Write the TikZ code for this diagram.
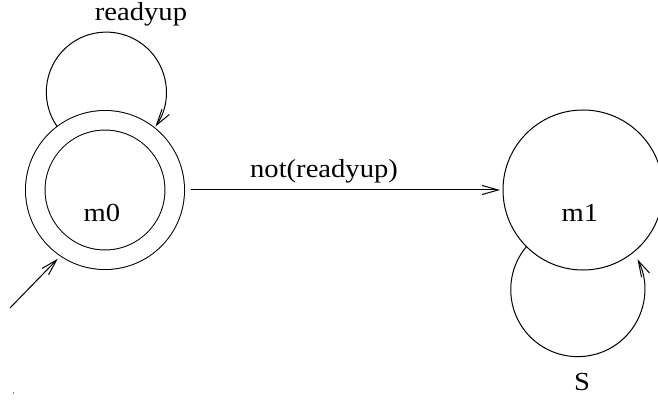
\documentclass[tikz,border=0pt]{standalone}
\usepackage{fontspec}
\setmainfont{Liberation Serif}[FakeStretch=1.1]
\usetikzlibrary{arrows.meta}
\begin{document}
\begin{tikzpicture}[x=0.5pt,y=0.5pt,line width=0.5pt,font=\fontsize{13}{15}\selectfont,
        >={Straight Barb[length=8pt,width=4.5pt]},
        statename/.style={label={[anchor=base,shift={(-1.5pt,-11.3pt)}]center:#1}}]
                \tikzstyle{state}=[circle,draw=black,fill=white,minimum size=80pt,inner sep=0pt,outer sep=0pt]
                \tikzstyle{accept}=[double,double distance=9.25pt,minimum size=69.75pt,outer sep=4.875pt]
                        \useasboundingbox (0,0) rectangle (658,402);
                        \node[state,accept,statename=m0] (m0) at (105,212){};
                        \node[state,statename=m1] (m1) at (583,212){};
                        \coordinate (init) at (10,94);

                        \draw[->,shorten >=2pt] (init) -- (m0.236);
                        \draw[->,shorten <=3pt,shorten >=1.5pt] (m0) -- node[pos=0.438,anchor=base,yshift=6pt] (lab-01){not(readyup)} (m1);
                        \draw[->] (m0.127) arc[start angle=215,end angle=-35,radius=60];
                        \draw[->] (m1.225) arc[start angle=140,end angle=387,radius=67];
                        \node[anchor=base] (lab-00) at (141,381){readyup};
                        \node[anchor=base] (lab-11) at (582,12){S};
                        \fill[black!45] (12.5,8.5) rectangle (13.5,10);
            \end{tikzpicture}
\end{document}
